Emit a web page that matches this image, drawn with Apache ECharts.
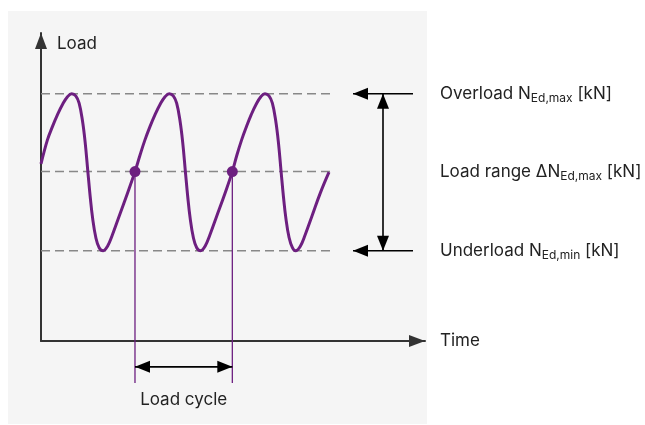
<!DOCTYPE html>
<html><head><meta charset="utf-8">
<script src="https://cdn.jsdelivr.net/npm/echarts@6/dist/echarts.min.js"></script>
<style>html,body{margin:0;padding:0;background:#fff;}#c{width:645px;height:425px;}</style>
</head><body><div id="c"></div>
<script>
// Load signal: time in load cycles, load in % of axis height
const waveTime = [
  0, 0.067, 0.119, 0.172, 0.224, 0.276, 0.32, 0.362, 0.397, 0.432, 0.46, 0.488, 0.512, 0.538, 0.571, 0.606, 0.648,
  0.692, 0.744, 0.814, 0.901, 0.979,
  1.031, 1.083, 1.135, 1.188, 1.240, 1.292, 1.336, 1.378, 1.413, 1.448, 1.476, 1.504, 1.528, 1.554, 1.587, 1.622, 1.664,
  1.708, 1.760, 1.830, 1.917, 1.993,
  2.04, 2.09, 2.14, 2.19, 2.24, 2.29, 2.333, 2.375, 2.41, 2.445, 2.473, 2.501, 2.525, 2.551, 2.584, 2.619, 2.652,
  2.70, 2.752, 2.822, 2.909, 3.0];
const waveLoad = [
  57.5, 65.3, 69.6, 73.5, 76.8, 79.3, 80.3, 79.6, 77.2, 71.5, 64.5, 55.0, 47.0, 39.8, 33.6, 30.3, 29.3,
  30.7, 34.5, 40.5, 48.0, 55.0,
  60.3, 65.3, 69.6, 73.5, 76.8, 79.3, 80.3, 79.6, 77.2, 71.5, 64.5, 55.0, 47.0, 39.8, 33.6, 30.3, 29.3,
  30.7, 34.5, 40.5, 48.0, 55.0,
  60.3, 65.3, 69.6, 73.5, 76.8, 79.3, 80.3, 79.6, 77.2, 71.5, 64.5, 55.0, 47.0, 39.8, 33.6, 30.3, 29.3,
  30.7, 34.5, 40.5, 48.0, 54.8];

// Load levels
const levelValues = [80.3, 55.0, 29.3];           // overload, mean, underload
const levelLabels = ['Overload N{sub|Ed,max} [kN]', 'Load range \u0394N{sub|Ed,max} [kN]', 'Underload N{sub|Ed,min} [kN]'];

// One load cycle: between two mean-level crossings
const cycleStarts = [0.979, 1.993];
const cycleLabel = 'Load cycle';

// Axis texts
const xName = 'Time';
const yName = 'Load';

// ---- layout of annotations (in axis units) ----
const refLineEnd = 3.05;
const cycleArrowLoad = -8.4, cycleTickLoad = -13.6, cycleLabelLoad = -19.2;
const levelArrowTail = 3.875, levelArrowTip = 3.25, rangeArrowTime = 3.5625;

const PURPLE = '#6d1f80';
const FONT = 'Inter';
const TEXT = '#222';
const FS = 17;

const [OVER, MEAN, UNDER] = levelValues;
// rows: x1, y1, x2, y2, headAtStart, headAtEnd, style(0 dashed, 1 purple tick, 2 black arrow)
const annoRows = [
  [0, OVER, refLineEnd, OVER, 0, 0, 0],
  [0, MEAN, refLineEnd, MEAN, 0, 0, 0],
  [0, UNDER, refLineEnd, UNDER, 0, 0, 0],
  [cycleStarts[0], MEAN, cycleStarts[0], cycleTickLoad, 0, 0, 1],
  [cycleStarts[1], MEAN, cycleStarts[1], cycleTickLoad, 0, 0, 1],
  [cycleStarts[0], cycleArrowLoad, cycleStarts[1], cycleArrowLoad, 1, 1, 2],
  [levelArrowTail, OVER, levelArrowTip, OVER, 0, 1, 2],
  [levelArrowTail, UNDER, levelArrowTip, UNDER, 0, 1, 2],
  [rangeArrowTime, OVER, rangeArrowTime, UNDER, 1, 1, 2]
];

function head(tip, from, len, half) {
  const dx = tip[0] - from[0], dy = tip[1] - from[1];
  const d = Math.hypot(dx, dy) || 1, ux = dx / d, uy = dy / d;
  const bx = tip[0] - ux * len, by = tip[1] - uy * len;
  return { type: 'polygon', shape: { points: [tip, [bx - uy * half, by + ux * half], [bx + uy * half, by - ux * half]] },
    style: { fill: '#000' } };
}

function renderAnno(params, api) {
  const p1 = api.coord([api.value(0), api.value(1)]);
  const p2 = api.coord([api.value(2), api.value(3)]);
  const st = api.value(6);
  const children = [];
  let lineStyle;
  if (st === 0) lineStyle = { stroke: '#888', lineWidth: 1.5, lineDash: [9, 5] };
  else if (st === 1) lineStyle = { stroke: PURPLE, lineWidth: 1.3 };
  else lineStyle = { stroke: '#000', lineWidth: 1.6 };
  children.push({ type: 'line', shape: { x1: p1[0], y1: p1[1], x2: p2[0], y2: p2[1] }, style: lineStyle });
  if (api.value(4)) children.push(head(p1, p2, 15, 6));
  if (api.value(5)) children.push(head(p2, p1, 15, 6));
  return { type: 'group', children };
}

const richSub = { sub: { fontSize: 12, fontFamily: FONT, fill: TEXT, padding: [9, 0, 0, 0] } };

function renderLabels(params, api) {
  const i = api.value(0);
  const end = api.coord([4, levelValues[i]]);
  return { type: 'text', x: end[0] + 15, y: end[1],
    style: { text: levelLabels[i], font: FS + 'px ' + FONT, fill: TEXT, align: 'left', verticalAlign: 'middle', rich: richSub } };
}

function renderCycleLabel(params, api) {
  const p = api.coord([(cycleStarts[0] + cycleStarts[1]) / 2, cycleLabelLoad]);
  return { type: 'text', x: p[0], y: p[1],
    style: { text: cycleLabel, font: FS + 'px ' + FONT, fill: TEXT, align: 'center', verticalAlign: 'middle' } };
}

const chart = echarts.init(document.getElementById('c'), null, { renderer: 'canvas' });
chart.setOption({
  animation: false,
  backgroundColor: '#fff',
  graphic: [{ type: 'rect', z: -10, shape: { x: 8, y: 11, width: 419, height: 413 }, style: { fill: '#f5f5f5' } }],
  grid: { left: 41, right: 220, top: 33, bottom: 84, containLabel: false, outerBoundsMode: 'none' },
  xAxis: {
    type: 'value', min: 0, max: 4,
    name: xName, nameLocation: 'end', nameGap: 15,
    nameTextStyle: { fontFamily: FONT, fontSize: FS, color: TEXT, align: 'left', verticalAlign: 'middle' },
    axisLine: { show: true, lineStyle: { color: '#333', width: 2 }, symbol: ['none', 'triangle'], symbolSize: [12, 16], symbolOffset: [0, -8] },
    axisTick: { show: false }, axisLabel: { show: false }, splitLine: { show: false }
  },
  yAxis: {
    type: 'value', min: 0, max: 100,
    name: yName, nameLocation: 'end', nameGap: -11,
    nameTextStyle: { fontFamily: FONT, fontSize: FS, color: TEXT, align: 'left', verticalAlign: 'middle', padding: [0, 0, 0, 16] },
    axisLine: { show: true, lineStyle: { color: '#333', width: 2 }, symbol: ['none', 'triangle'], symbolSize: [12, 16], symbolOffset: [0, -8] },
    axisTick: { show: false }, axisLabel: { show: false }, splitLine: { show: false }
  },
  series: [
    { type: 'custom', z: 1, silent: true, clip: false, renderItem: renderAnno, data: annoRows,
      encode: { x: [0, 2], y: [1, 3] } },
    { type: 'line', z: 3, smooth: 0.4, symbol: 'none', silent: true,
      data: waveTime.map((t, i) => [t, waveLoad[i]]),
      lineStyle: { color: PURPLE, width: 3 } },
    { type: 'scatter', z: 4, silent: true, symbolSize: 11, itemStyle: { color: PURPLE, opacity: 1 },
      data: cycleStarts.map(t => [t, MEAN]) },
    { type: 'custom', z: 5, silent: true, clip: false, renderItem: renderLabels,
      data: levelValues.map((v, i) => [i]), encode: { x: -1, y: -1 } },
    { type: 'custom', z: 5, silent: true, clip: false, renderItem: renderCycleLabel,
      data: [[0]], encode: { x: -1, y: -1 } }
  ]
});
</script></body></html>
